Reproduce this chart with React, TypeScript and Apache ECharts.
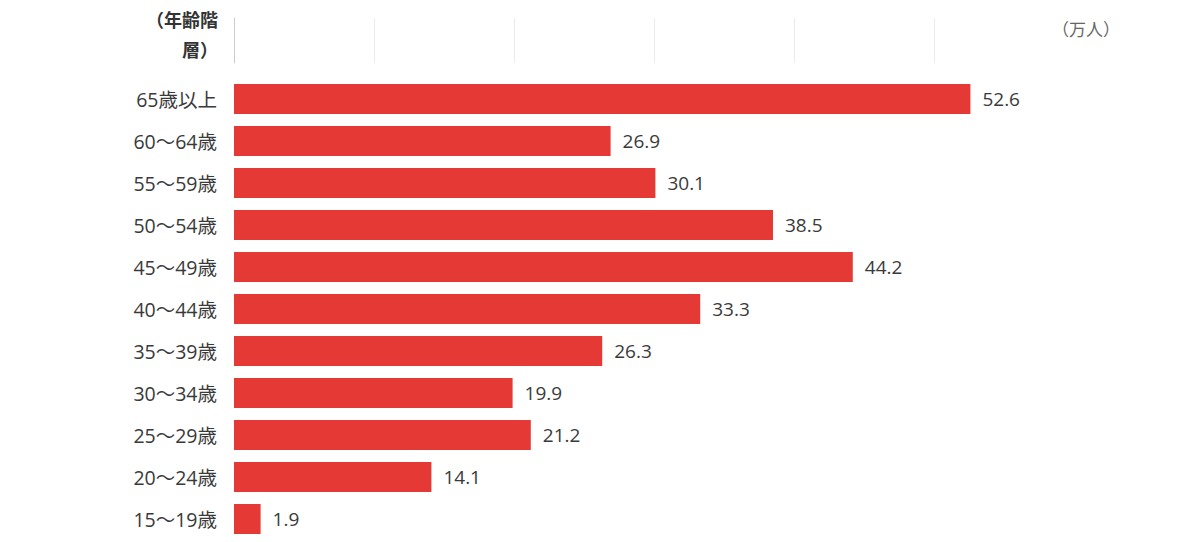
import React, { useEffect, useRef } from "react";
import * as echarts from "echarts";

const categories = [
  "65歳以上",
  "60〜64歳",
  "55〜59歳",
  "50〜54歳",
  "45〜49歳",
  "40〜44歳",
  "35〜39歳",
  "30〜34歳",
  "25〜29歳",
  "20〜24歳",
  "15〜19歳",
];
const values = [52.6, 26.9, 30.1, 38.5, 44.2, 33.3, 26.3, 19.9, 21.2, 14.1, 1.9];
const axisTitle = ["（年齢階", "層）"];
const unitLabel = "（万人）";

const FONT = "'Noto Sans CJK JP', 'Noto Sans', sans-serif";
const LABEL_FONT = "'Open Sans', 'Noto Sans CJK JP', sans-serif";

export default function App() {
  const ref = useRef<HTMLDivElement>(null);
  useEffect(() => {
    if (!ref.current) return;
    const chart = echarts.init(ref.current, undefined, { renderer: "svg" });
    chart.setOption({
      animation: false,
      backgroundColor: "#ffffff",
      textStyle: { fontFamily: FONT },
      grid: [
        { left: 234, top: 78, width: 840, height: 462, containLabel: false },
        { left: 234, top: 18, width: 700, height: 45, containLabel: false },
      ],
      xAxis: [
        {
          gridIndex: 0,
          type: "value",
          min: 0,
          max: 60,
          interval: 10,
          axisLine: { show: false },
          axisTick: { show: false },
          axisLabel: { show: false },
          splitLine: { show: false },
        },
        {
          gridIndex: 1,
          type: "value",
          min: 0,
          max: 50,
          interval: 10,
          axisLine: { show: false },
          axisTick: { show: false },
          axisLabel: { show: false },
          splitLine: { show: true, lineStyle: { color: "#ececec", width: 1 } },
        },
      ],
      yAxis: [
        {
          gridIndex: 0,
          type: "category",
          data: categories,
          inverse: true,
          axisLine: { show: false },
          axisTick: { show: false },
          axisLabel: {
            margin: 17,
            fontSize: 19.5,
            color: "#3a3a3a",
            fontFamily: LABEL_FONT,
          },
        },
        {
          gridIndex: 1,
          type: "category",
          data: [""],
          axisLine: { show: true, lineStyle: { color: "#cccccc", width: 1 } },
          axisTick: { show: false },
          axisLabel: { show: false },
        },
      ],
      series: [
        {
          type: "bar",
          xAxisIndex: 0,
          yAxisIndex: 0,
          data: values,
          barWidth: 30,
          itemStyle: { color: "#E53935" },
          label: {
            show: true,
            position: "right",
            distance: 12,
            fontSize: 19,
            color: "#3a3a3a",
            fontFamily: LABEL_FONT,
            formatter: (p: any) => Number(p.value).toFixed(1),
          },
        },
      ],
      graphic: [
        {
          type: "text",
          right: 1200 - 218,
          top: 10,
          style: {
            text: axisTitle[0],
            font: `bold 18px ${FONT}`,
            fill: "#333333",
            textAlign: "right",
          },
        },
        {
          type: "text",
          right: 1200 - 218,
          top: 40,
          style: {
            text: axisTitle[1],
            font: `bold 18px ${FONT}`,
            fill: "#333333",
            textAlign: "right",
          },
        },
        {
          type: "text",
          left: 1052,
          top: 20,
          style: {
            text: unitLabel,
            font: `17px ${FONT}`,
            fill: "#666666",
          },
        },
      ],
    });
    return () => chart.dispose();
  }, []);
  return (
    <div
      ref={ref}
      style={{ position: "fixed", left: 0, top: 0, width: 1200, height: 542 }}
    />
  );
}
